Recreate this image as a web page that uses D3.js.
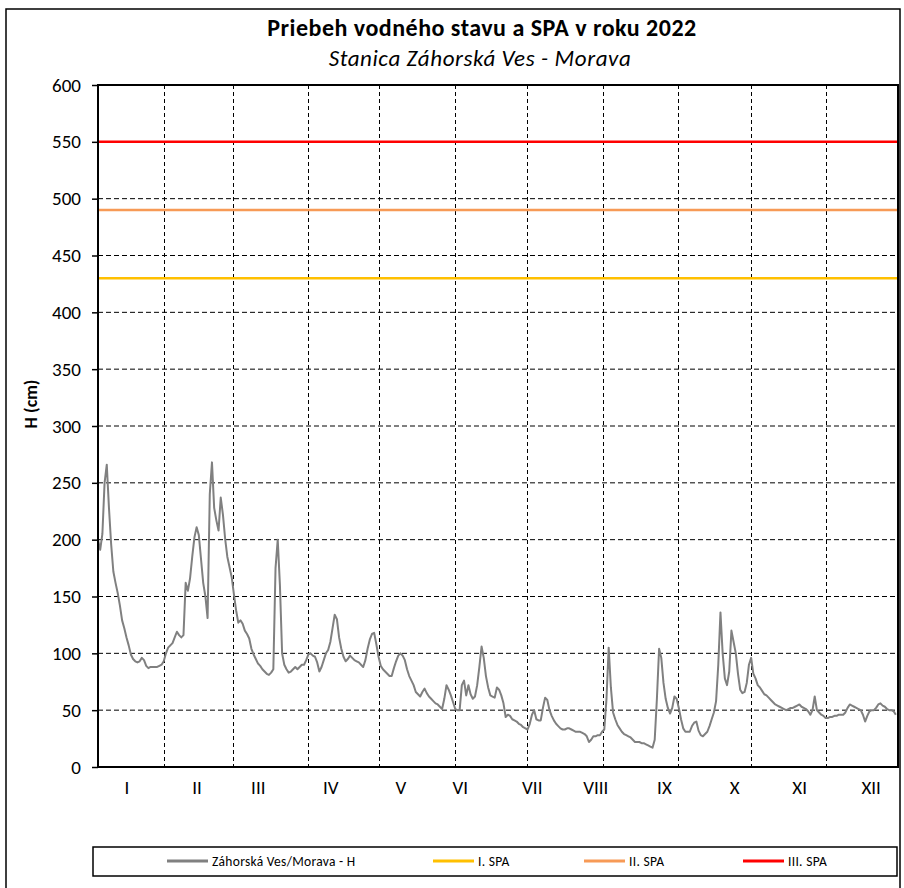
<!DOCTYPE html>
<html>
<head>
<meta charset="utf-8">
<script src="https://cdn.jsdelivr.net/npm/d3@7"></script>
<style>
  body { margin: 0; background: #fff; }
  svg text { font-family: Carlito, Calibri, Lato, sans-serif; }
</style>
</head>
<body>
<div id="chart"></div>
<script>
// ---------- Data ----------
// daily water level H (cm), 1.1.2022 - 31.12.2022
const levels = [
  200, 191, 205, 250, 266, 228, 196, 172, 162, 153, 142, 129, 122, 114, 107, 99, 95, 93, 92, 93,
  96, 94, 89, 87, 88, 88, 88, 88, 89, 90, 93, 100, 105, 107, 109, 114, 119, 116, 114, 116,
  162, 155, 166, 185, 202, 211, 204, 183, 162, 150, 131, 240, 268, 228, 217, 208, 237, 222, 201, 185,
  176, 167, 152, 138, 127, 129, 126, 120, 117, 113, 104, 99, 95, 91, 89, 86, 84, 82, 81, 83,
  86, 175, 200, 160, 100, 90, 86, 83, 84, 86, 88, 86, 88, 90, 90, 94, 99, 100, 98, 97,
  92, 84, 88, 94, 100, 103, 110, 122, 134, 130, 114, 104, 97, 93, 95, 98, 96, 94, 93, 92,
  90, 88, 94, 104, 112, 117, 118, 108, 97, 89, 86, 84, 82, 80, 80, 87, 93, 98, 100, 98,
  94, 86, 80, 76, 72, 66, 64, 62, 66, 69, 65, 62, 60, 58, 56, 55, 53, 51, 60, 72,
  68, 63, 57, 51, 50, 50, 72, 76, 63, 72, 64, 60, 62, 72, 88, 106, 96, 80, 70, 63,
  62, 61, 70, 68, 63, 56, 44, 46, 45, 42, 41, 40, 38, 37, 35, 34, 33, 38, 46, 50,
  42, 41, 41, 52, 61, 59, 50, 45, 41, 38, 36, 34, 33, 33, 34, 34, 33, 32, 31, 31,
  31, 30, 29, 27, 22, 24, 27, 27, 28, 28, 31, 33, 60, 105, 70, 48, 42, 37, 34, 31,
  29, 28, 27, 26, 24, 22, 22, 22, 21, 21, 20, 19, 18, 17, 24, 60, 104, 96, 74, 60,
  52, 47, 52, 62, 60, 52, 42, 34, 31, 31, 31, 36, 39, 40, 32, 28, 27, 29, 31, 36,
  42, 48, 58, 90, 136, 100, 78, 72, 84, 120, 110, 100, 82, 68, 65, 66, 74, 90, 96, 82,
  78, 72, 70, 67, 64, 63, 61, 59, 57, 55, 54, 53, 52, 51, 50, 51, 52, 52, 53, 54,
  55, 53, 52, 51, 49, 46, 50, 62, 50, 48, 46, 45, 43, 43, 44, 44, 45, 45, 46, 46,
  46, 48, 52, 55, 54, 53, 52, 51, 50, 46, 40, 45, 49, 50, 50, 52, 55, 56, 54, 53,
  51, 50, 50, 49, 46
];

// flood activity levels (SPA)
const spaNames = ["I. SPA", "II. SPA", "III. SPA"];
const spaValues = [430, 490, 550];
const spaColors = ["#FFC000", "#F79A56", "#FF0000"];

// axis labels
const monthLabels = ["I", "II", "III", "IV", "V", "VI", "VII", "VIII", "IX", "X", "XI", "XII"];
const monthLabelDays = [13, 44.9, 72.9, 106, 138, 165.1, 197.9, 226.9, 258.2, 290.3, 319.9, 352.5];
const gridDays = [30.2, 61.4, 95.6, 128.3, 163, 195.8, 230.5, 264.8, 298, 332];
const yTicks = [0, 50, 100, 150, 200, 250, 300, 350, 400, 450, 500, 550, 600];

// ---------- Dimensions ----------
const W = 904, H = 888;
const margin = { top: 85, right: 6, bottom: 121, left: 98 };
const width = W - margin.left - margin.right;
const height = H - margin.top - margin.bottom;

const svg = d3.select("#chart").append("svg")
  .attr("width", W)
  .attr("height", H);

// outer frame
svg.append("rect")
  .attr("x", 6).attr("y", 9)
  .attr("width", 894).attr("height", 900)
  .attr("fill", "none")
  .attr("stroke", "#000")
  .attr("stroke-width", 1.5);

// ---------- Titles ----------
svg.append("text")
  .attr("x", 482).attr("y", 36)
  .attr("text-anchor", "middle")
  .attr("font-size", 24)
  .attr("font-weight", "bold")
  .attr("letter-spacing", 0.5)
  .text("Priebeh vodného stavu a SPA v roku 2022");

svg.append("text")
  .attr("x", 480).attr("y", 66)
  .attr("text-anchor", "middle")
  .attr("font-size", 23)
  .attr("font-style", "italic")
  .attr("letter-spacing", 0.6)
  .text("Stanica Záhorská Ves - Morava");

const g = svg.append("g")
  .attr("transform", `translate(${margin.left},${margin.top})`);

// ---------- Scales ----------
const x = d3.scaleLinear().domain([0, 365]).range([0, width]);
const y = d3.scaleLinear().domain([0, 600]).range([height, 0]);

// ---------- Grid ----------
g.append("g")
  .selectAll("line")
  .data(yTicks.filter(d => d > 0 && d < 600))
  .join("line")
  .attr("x1", 0).attr("x2", width)
  .attr("y1", d => y(d)).attr("y2", d => y(d))
  .attr("stroke", "#000")
  .attr("stroke-width", 1)
  .attr("stroke-dasharray", "5,3");

g.append("g")
  .selectAll("line")
  .data(gridDays)
  .join("line")
  .attr("x1", d => Math.round(x(d)) + 0.5).attr("x2", d => Math.round(x(d)) + 0.5)
  .attr("y1", 0).attr("y2", height)
  .attr("stroke", "#000")
  .attr("stroke-width", 1)
  .attr("stroke-dasharray", "4,3");

// ---------- SPA lines ----------
g.append("g")
  .selectAll("line")
  .data(spaValues)
  .join("line")
  .attr("x1", 0).attr("x2", width)
  .attr("y1", d => y(d)).attr("y2", d => y(d))
  .attr("stroke", (d, i) => spaColors[i])
  .attr("stroke-width", 2.5);

// ---------- Water level ----------
const line = d3.line()
  .x((d, i) => x(i))
  .y(d => y(d));

g.append("path")
  .datum(levels)
  .attr("fill", "none")
  .attr("stroke", "#808080")
  .attr("stroke-width", 2)
  .attr("stroke-linejoin", "round")
  .attr("d", line);

// ---------- Axes ----------
const yAxis = g.append("g")
  .call(d3.axisLeft(y).tickValues(yTicks).tickSize(6).tickPadding(11).tickSizeOuter(0));
yAxis.select(".domain").remove();
yAxis.selectAll("line").attr("stroke", "#000").attr("stroke-width", 1.5);
yAxis.selectAll("text").attr("font-size", 19).attr("fill", "#000")
  .style("font-family", "Carlito, Calibri, Lato, sans-serif");

const xAxis = g.append("g")
  .attr("transform", `translate(0,${height})`)
  .call(d3.axisBottom(x).tickValues(monthLabelDays)
    .tickFormat((d, i) => monthLabels[i]).tickSize(0).tickPadding(14));
xAxis.select(".domain").remove();
xAxis.selectAll("text").attr("font-size", 19).attr("fill", "#000")
  .style("font-family", "Carlito, Calibri, Lato, sans-serif");

// plot border
g.append("rect")
  .attr("x", 0).attr("y", 0)
  .attr("width", width).attr("height", height)
  .attr("fill", "none")
  .attr("stroke", "#000")
  .attr("stroke-width", 2);

// y axis title
svg.append("text")
  .attr("transform", "translate(37,404) rotate(-90)")
  .attr("text-anchor", "middle")
  .attr("font-size", 18)
  .attr("font-weight", "bold")
  .text("H (cm)");

// ---------- Legend ----------
svg.append("rect")
  .attr("x", 93).attr("y", 847)
  .attr("width", 804).attr("height", 29)
  .attr("fill", "none")
  .attr("stroke", "#000")
  .attr("stroke-width", 1.5);

const legendItems = [
  { name: "Záhorská Ves/Morava - H", color: "#808080", x: 167 },
  { name: spaNames[0], color: spaColors[0], x: 433 },
  { name: spaNames[1], color: spaColors[1], x: 584 },
  { name: spaNames[2], color: spaColors[2], x: 743 }
];

const lg = svg.append("g").selectAll("g")
  .data(legendItems)
  .join("g")
  .attr("transform", d => `translate(${d.x},861)`);

lg.append("line")
  .attr("x1", 0).attr("x2", 41)
  .attr("stroke", d => d.color)
  .attr("stroke-width", 3);

lg.append("text")
  .attr("x", 45).attr("dy", "0.35em")
  .attr("font-size", 13.5)
  .attr("letter-spacing", 0.3)
  .text(d => d.name);
</script>
</body>
</html>
